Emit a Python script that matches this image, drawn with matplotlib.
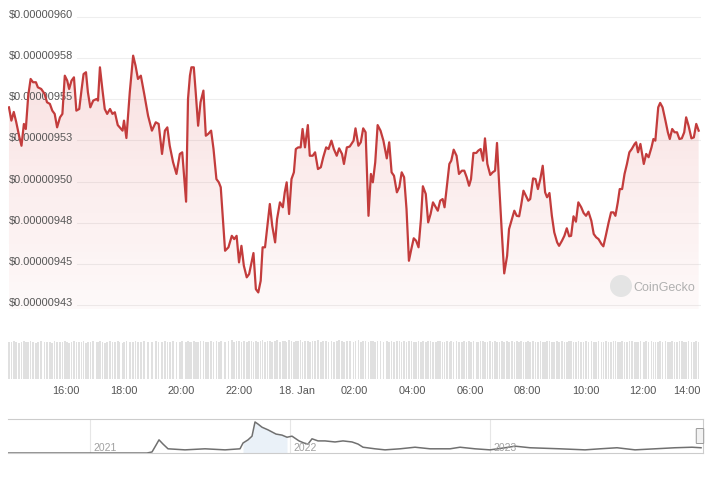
import numpy as np
import matplotlib.pyplot as plt
import matplotlib.transforms as mtransforms
from matplotlib.patches import FancyBboxPatch, Ellipse

plt.rcParams["font.family"] = ["Liberation Sans", "DejaVu Sans"]

# minutes after 17 Jan 14:00
minutes = [
    2, 7, 12, 17, 23, 28, 33, 37, 42, 47,
    52, 58, 62, 69, 76, 81, 87, 92, 97, 102,
    108, 113, 118, 123, 127, 132, 137, 142, 148, 153,
    157, 162, 166, 171, 177, 184, 187, 191, 196, 201,
    206, 212, 217, 222, 228, 232, 238, 241, 246, 253,
    260, 265, 270, 276, 283, 291, 299, 307, 313, 320,
    326, 331, 336, 343, 350, 357, 362, 370, 374, 378,
    381, 386, 390, 395, 400, 406, 411, 416, 422, 427,
    433, 438, 442, 451, 458, 465, 470, 475, 480, 485,
    490, 496, 501, 506, 510, 515, 520, 525, 529, 534,
    539, 544, 549, 555, 559, 565, 571, 575, 579, 584,
    589, 594, 598, 603, 608, 612, 617, 623, 627, 633,
    638, 644, 650, 655, 661, 666, 672, 677, 683, 688,
    694, 698, 704, 710, 718, 722, 728, 733, 738, 743,
    749, 754, 758, 763, 768, 774, 780, 787, 792, 797,
    802, 808, 813, 818, 823, 828, 833, 838, 843, 848,
    853, 858, 862, 868, 873, 878, 883, 889, 893, 898,
    903, 907, 912, 917, 921, 926, 932, 937, 943, 948,
    953, 958, 962, 967, 973, 977, 982, 987, 991, 996,
    1002, 1007, 1012, 1016, 1021, 1026, 1031, 1037, 1041, 1047,
    1052, 1057, 1062, 1066, 1071, 1076, 1081, 1085, 1091, 1096,
    1101, 1106, 1111, 1116, 1120, 1125, 1130, 1135, 1141, 1145,
    1151, 1156, 1161, 1166, 1170, 1175, 1180, 1185, 1191, 1196,
    1201, 1206, 1212, 1217, 1222, 1227, 1233, 1237, 1242, 1248,
    1253, 1258, 1262, 1267, 1271, 1276, 1281, 1286, 1291, 1296,
    1302, 1305, 1309, 1314, 1321, 1326, 1331, 1337, 1341, 1345,
    1351, 1355, 1360, 1366, 1371, 1375, 1380, 1385, 1390, 1395,
    1400, 1405, 1409, 1414, 1420, 1425, 1430, 1435,
]

# price in units of 1e-8 USD
price = [
    954.52, 953.71, 954.24, 953.63, 952.79, 952.18, 953.51, 953.20, 955.23, 956.25,
    956.05, 956.05, 955.74, 955.64, 955.34, 954.83, 954.73, 954.32, 954.12, 953.30,
    953.91, 954.12, 956.45, 956.15, 955.64, 956.15, 956.35, 954.32, 954.42, 955.64,
    956.55, 956.66, 955.44, 954.52, 954.93, 955.03, 954.93, 956.96, 955.64, 954.42,
    954.12, 954.42, 954.12, 954.22, 953.44, 953.30, 953.10, 953.71, 952.65, 955.44,
    957.67, 957.06, 956.25, 956.45, 955.34, 954.01, 953.10, 953.61, 953.51, 951.68,
    953.10, 953.30, 952.18, 951.17, 950.46, 951.68, 951.78, 948.77, 955.03, 956.45,
    956.96, 956.96, 955.44, 953.40, 954.83, 955.54, 952.79, 952.90, 953.10, 951.98,
    950.15, 949.95, 949.65, 945.78, 945.99, 946.69, 946.49, 946.69, 945.07, 946.08,
    944.87, 944.16, 944.36, 945.07, 945.64, 943.44, 943.24, 943.95, 945.99, 945.99,
    947.30, 948.63, 947.30, 946.29, 947.71, 948.73, 948.43, 949.34, 949.95, 948.02,
    950.15, 950.56, 951.98, 952.08, 952.08, 953.20, 952.08, 953.44, 951.57, 951.57,
    951.78, 950.76, 950.87, 951.48, 952.08, 951.98, 952.49, 951.98, 951.57, 952.02,
    951.68, 951.07, 952.08, 952.13, 952.49, 953.24, 952.18, 952.39, 953.24, 953.00,
    947.91, 950.46, 949.95, 951.17, 953.44, 953.10, 952.49, 951.41, 952.39, 950.56,
    950.35, 949.34, 949.65, 950.56, 950.26, 948.32, 945.17, 945.88, 946.54, 946.39,
    945.99, 947.71, 949.71, 949.24, 947.51, 948.02, 948.73, 948.43, 948.22, 948.83,
    948.93, 948.43, 949.74, 951.07, 951.27, 951.94, 951.57, 950.46, 950.66, 950.66,
    950.26, 949.74, 950.15, 951.74, 951.74, 951.88, 951.98, 951.27, 952.63, 951.07,
    950.40, 950.56, 950.66, 952.35, 949.54, 946.90, 944.40, 945.47, 947.10, 947.71,
    948.22, 947.91, 947.88, 948.52, 949.44, 949.13, 948.83, 948.93, 950.19, 950.15,
    949.54, 950.15, 950.96, 949.34, 949.04, 949.30, 947.91, 946.90, 946.29, 946.08,
    946.39, 946.69, 947.15, 946.66, 946.69, 947.88, 947.55, 948.73, 948.43, 948.08,
    947.91, 948.16, 947.61, 946.80, 946.60, 946.49, 946.19, 946.05, 946.69, 947.51,
    948.12, 948.12, 947.91, 948.73, 949.54, 949.54, 950.46, 951.07, 951.78, 951.98,
    952.29, 952.39, 951.78, 952.29, 951.07, 951.68, 951.48, 952.08, 952.59, 952.49,
    954.52, 954.79, 954.52, 953.71, 953.00, 952.59, 953.20, 953.00, 953.00, 952.59,
    952.63, 953.00, 953.91, 953.40, 952.63, 952.69, 953.51, 953.10,
]

# volume, relative
volume = [
    97, 95, 98, 96, 94, 97, 99, 96, 95, 98, 97, 93, 96, 98, 95, 97, 96, 94, 98, 97,
    95, 96, 98, 97, 94, 96, 99, 97, 95, 96, 98, 94, 97, 96, 99, 95, 97, 98, 96, 94,
    97, 98, 95, 96, 99, 97, 94, 96, 98, 97, 95, 99, 96, 97, 98, 95, 96, 99, 97, 95,
    98, 96, 97, 99, 95, 97, 98, 96, 99, 97, 96, 98, 95, 97, 99, 98, 96, 97, 99, 96,
    98, 97, 99, 96, 98, 100, 97, 98, 99, 96, 98, 97, 99, 98, 96, 99, 97, 98, 100, 97,
    99, 98, 96, 99, 100, 97, 98, 99, 97, 100, 98, 96, 99, 98, 100, 97, 99, 98, 96, 99,
    98, 100, 97, 99, 98, 96, 99, 97, 98, 100, 99, 97, 98, 99, 96, 98, 100, 97, 99, 98,
    97, 99, 98, 96, 98, 99, 97, 98, 96, 99, 97, 98, 99, 96, 98, 97, 99, 98, 96, 97,
    99, 97, 98, 96, 99, 98, 97, 95, 98, 99, 97, 96, 98, 97, 99, 96, 98, 97, 95, 98,
    97, 99, 96, 98, 97, 95, 98, 99, 96, 97, 98, 96, 99, 97, 95, 98, 97, 99, 96, 98,
    96, 98, 97, 99, 95, 97, 98, 96, 99, 97, 96, 98, 97, 95, 98, 99, 96, 97, 98, 96,
    98, 97, 95, 98, 99, 96, 97, 98, 95, 97, 99, 96, 98, 97, 96, 99, 97, 95, 98, 97,
    96, 98, 99, 97, 95, 98, 96, 97, 99, 98, 96, 97, 95, 98, 97, 99, 96, 98, 97, 95,
    97, 98, 96, 99, 97, 95, 98, 97, 96, 98, 99, 97, 95, 98, 96, 97, 98, 96,
]

y_ticks = [960.0, 957.5, 955.0, 952.5, 950.0, 947.5, 945.0, 942.5]
y_tick_labels = ["$0.00000960", "$0.00000958", "$0.00000955", "$0.00000953",
                 "$0.00000950", "$0.00000948", "$0.00000945", "$0.00000943"]
x_ticks = [120, 240, 360, 480, 600, 720, 840, 960, 1080, 1200, 1320, 1440]
x_tick_labels = ["16:00", "18:00", "20:00", "22:00", "18. Jan", "02:00",
                 "04:00", "06:00", "08:00", "10:00", "12:00", "14:00"]

# navigator: full history (year, price in 1e-6 USD)
nav_years = [2020.59, 2021.285, 2021.31, 2021.33, 2021.345, 2021.365, 2021.39,
             2021.475, 2021.575, 2021.675, 2021.75, 2021.765, 2021.79, 2021.81,
             2021.825, 2021.84, 2021.86, 2021.89, 2021.93, 2021.96, 2021.985,
             2022.01, 2022.045, 2022.07, 2022.09, 2022.11, 2022.14, 2022.175,
             2022.225, 2022.265, 2022.31, 2022.34, 2022.365, 2022.425, 2022.475,
             2022.55, 2022.625, 2022.70, 2022.80, 2022.85, 2022.925, 2023.0,
             2023.075, 2023.125, 2023.20, 2023.35, 2023.475, 2023.55, 2023.635,
             2023.725, 2023.825, 2023.925, 2024.01, 2024.055]
nav_price = [0, 0, 2, 15, 25, 17, 8, 6, 8, 6,
             8, 19, 25, 32, 59, 55, 49, 44, 36, 34,
             30, 32, 23, 19, 17, 27, 23, 23, 21, 23,
             21, 17, 11, 8, 6, 8, 11, 8, 8, 11,
             8, 6, 10, 13, 10, 8, 6, 8, 10, 6,
             8, 10, 11, 10]
nav_year_ticks = [2021, 2022, 2023]

line_red = "#c33c3c"
text_grey = "#555555"

fig = plt.figure(figsize=(7.28, 4.81), dpi=100)
fig.patch.set_facecolor("white")

# main price chart
ax = fig.add_axes([0.011, 0.3555, 0.952, 0.6154])
ylo, yhi = 942.23, 960.27
ax.axis("off")

for v in y_ticks:
    ax.axhline(v, xmin=0.1, xmax=1, color="#eeeeee", lw=0.8, zorder=0)
lab_tr = mtransforms.blended_transform_factory(ax.transAxes, ax.transData)
for v, lab in zip(y_ticks, y_tick_labels):
    ax.text(0.001, v, lab, transform=lab_tr, ha="left", va="baseline",
            fontsize=7.9, color=text_grey, zorder=2)

# gradient fill under the line
poly = ax.fill_between(minutes, price, ylo, facecolor="none", edgecolor="none")
grad = np.zeros((256, 1, 4))
grad[..., 0] = 0.85
grad[..., 1] = 0.25
grad[..., 2] = 0.25
grad[..., 3] = np.linspace(0.18, 0.03, 256).reshape(-1, 1)
im = ax.imshow(grad, extent=[0, 1440, ylo, yhi], aspect="auto",
               origin="upper", zorder=1)
im.set_clip_path(poly.get_paths()[0], transform=ax.transData)
ax.plot(minutes, price, color=line_red, lw=1.6, zorder=3, solid_joinstyle="round")
ax.set_xlim(0, 1440)
ax.set_ylim(ylo, yhi)

# watermark
fig.patches.append(Ellipse((621 / 728, 1 - 287 / 481), 22 / 728, 22 / 481,
                           transform=fig.transFigure, facecolor="#e4e4e4",
                           edgecolor="none"))
fig.text(633 / 728, 1 - 288 / 481, "CoinGecko", fontsize=9, color="#b0b0b0",
         ha="left", va="center")

# volume bars
vax = fig.add_axes([0.011, 0.21, 0.952, 0.0811])
vax.bar(minutes, volume, width=3.3, color="#e0e0e0", linewidth=0)
vax.set_xlim(0, 1440)
vax.set_ylim(0, 101)
for s in vax.spines.values():
    s.set_visible(False)
vax.set_yticks([])
vax.set_xticks(x_ticks)
vax.set_xticklabels(x_tick_labels)
vax.tick_params(axis="x", length=0, pad=4.5, labelsize=7.9, labelcolor=text_grey)
vax.get_xticklabels()[-1].set_ha("right")

# navigator
nax = fig.add_axes([0.011, 0.0561, 0.9547, 0.0707])
nax.set_xlim(2020.59, 2024.065)
nax.set_ylim(0, 64.6)
nax.set_xticks([])
nax.set_yticks([])
nax.spines["left"].set_visible(False)
for side in ["top", "right", "bottom"]:
    nax.spines[side].set_color("#cccccc")
    nax.spines[side].set_linewidth(0.8)
for yr in nav_year_ticks:
    nax.axvline(yr, color="#e6e6e6", lw=0.8, zorder=0)
    nax.annotate(str(yr), (yr, 0.18), xycoords=("data", "axes fraction"),
                 xytext=(2.5, 0), textcoords="offset points",
                 ha="left", va="center", fontsize=7.5, color="#a0a0a0")
ny = np.array(nav_years)
npr = np.array(nav_price)
sel = (ny >= 2021.765) & (ny <= 2022.0)
nax.fill_between(ny[sel], npr[sel], 0, color="#eaf1f8", lw=0, zorder=1)
nax.plot(nav_years, nav_price, color="#707070", lw=1.1, zorder=2)

# navigator handle
fig.patches.append(FancyBboxPatch((0.9574, 0.0769), 0.00824, 0.0291,
                                  boxstyle="round,pad=0.001",
                                  transform=fig.transFigure,
                                  facecolor="#f2f2f2", edgecolor="#999999",
                                  linewidth=0.7))

fig.savefig("out.png", dpi=100)
